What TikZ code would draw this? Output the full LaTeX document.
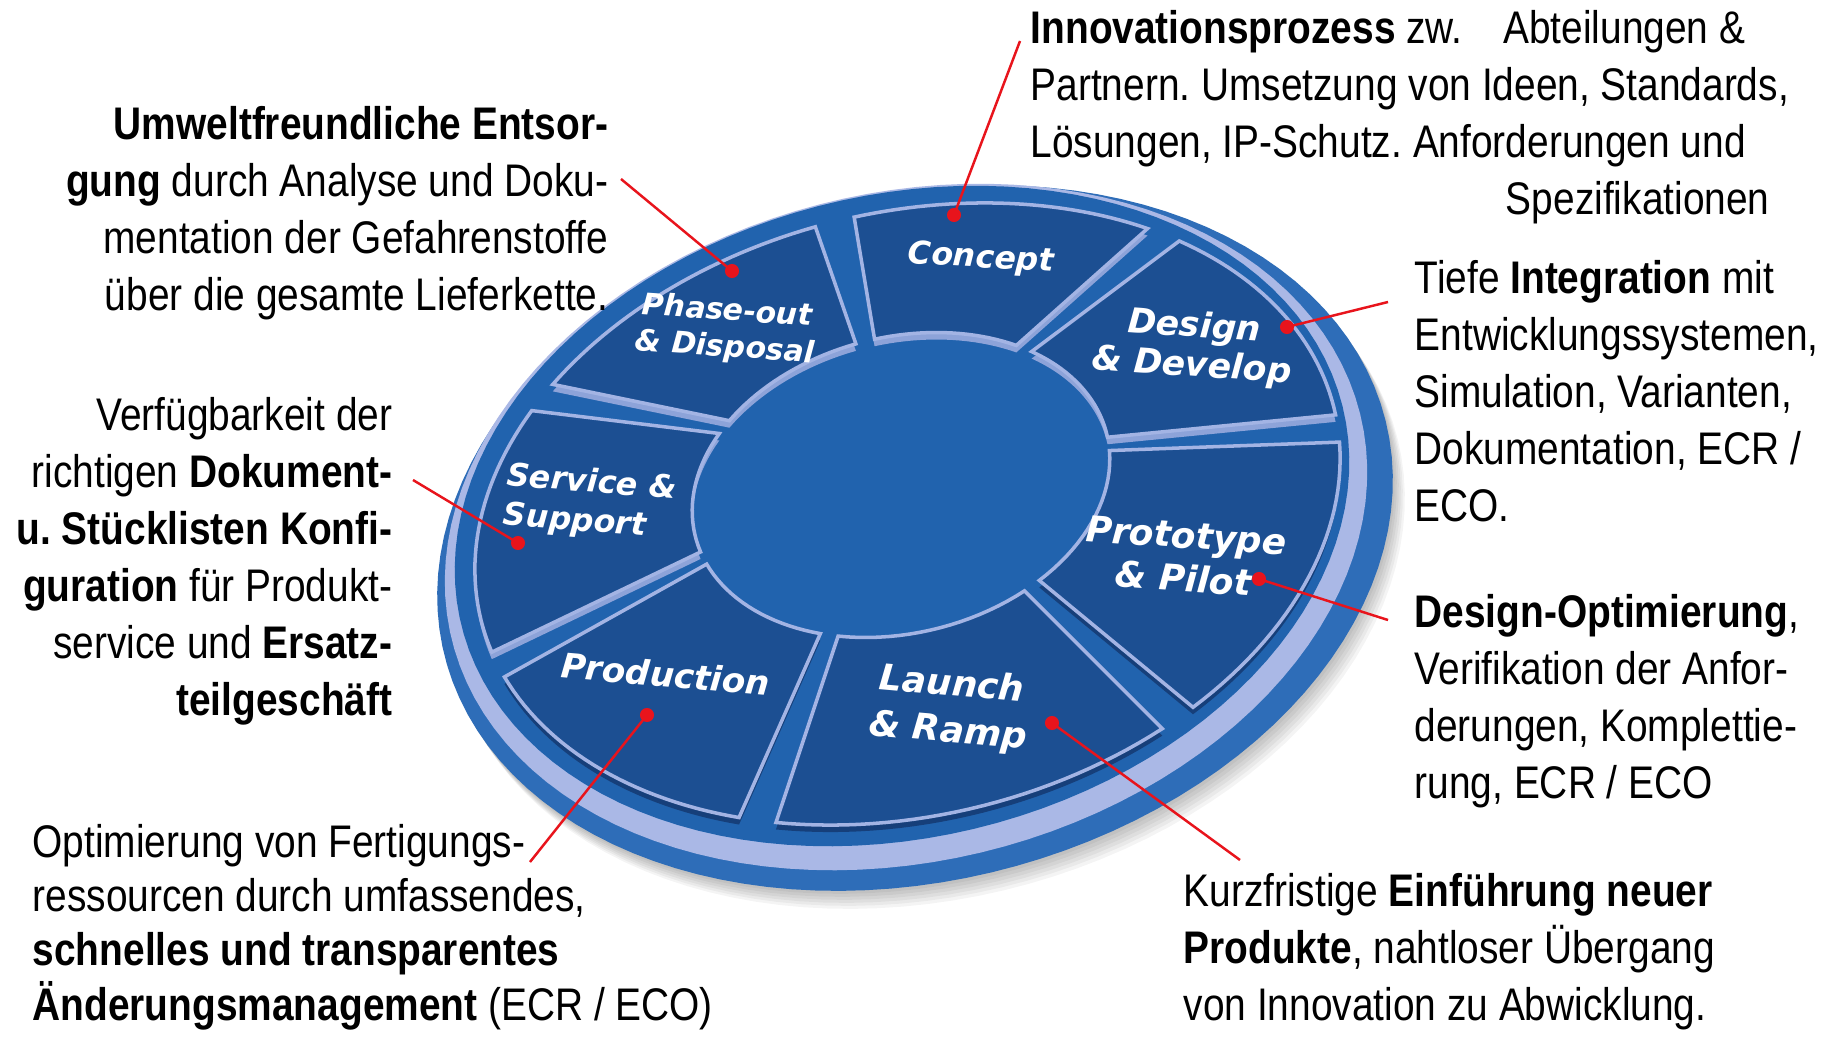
\documentclass[tikz,border=0pt]{standalone}
\usepackage{fontspec}
\setmainfont[FakeStretch=0.85]{Liberation Sans}
\newfontfamily\segfont{DejaVu Sans}
\frenchspacing

\definecolor{rimblue}{HTML}{2E6DB8}
\definecolor{stripe}{HTML}{AAB8E6}
\definecolor{faceblue}{HTML}{2163AE}
\definecolor{segblue}{HTML}{1C4F92}
\definecolor{segline}{HTML}{A3B4E4}
\definecolor{lightside}{HTML}{8DA3D9}
\definecolor{darkside}{HTML}{163F7A}
\definecolor{pointred}{HTML}{E8141C}

\tikzset{
	blocktext/.style={font=\fontsize{13}{16.2}\selectfont, inner sep=0pt},
	seglabel/.style={text=white, inner sep=0pt, align=center},
	pointer/.style={draw=pointred, line width=0.7pt},
	dot/.style={circle, fill=pointred, inner sep=0pt, minimum size=4pt},
}

% one wedge of the wheel between two parameter angles
\newcommand{\wedgepath}[2]{plot[domain=0:1, samples=30] ({ellx(907.5,439.5,301.3,(#1)+((#2)-(#1))*\x)},{elly(514,439.5,301.3,(#1)+((#2)-(#1))*\x)}) -- plot[domain=0:1, samples=20] ({ellx(901,212,148,(#2)+((#1)-(#2))*\x)},{elly(485,212,148,(#2)+((#1)-(#2))*\x)}) -- cycle}

\begin{document}
\begin{tikzpicture}[x=0.01cm, y=-0.01cm,
	declare function={
		ellx(\cen,\ra,\rb,\ang)=\cen+\ra*cos(\ang)*cos(14)-\rb*sin(\ang)*sin(14);
		elly(\cen,\ra,\rb,\ang)=\cen-\ra*cos(\ang)*sin(14)-\rb*sin(\ang)*cos(14);
	}]

	% page
	\fill[white] (0,0) rectangle (1836,1036);
	\useasboundingbox (0,0) rectangle (1836,1036);

	% shadow
	\foreach \k in {1,...,6}
		\fill[black, opacity=0.045] plot[domain=0:360, samples=120] ({ellx(915+2*\k,485,343,\x)},{elly(538+3*\k,485,343,\x)}) -- cycle;

	% disk: rim, light stripe, face
	\fill[rimblue] plot[domain=0:360, samples=120] ({ellx(915,485,343,\x)},{elly(538,485,343,\x)}) -- cycle;
	\fill[stripe] plot[domain=0:360, samples=120] ({ellx(906,468,334,\x)},{elly(527,468,334,\x)}) -- cycle;
	\fill[faceblue] plot[domain=0:360, samples=120] ({ellx(902,454,321,\x)},{elly(516,454,321,\x)}) -- cycle;

	% wedge sides
	\foreach \lo/\hi/\col in {44/90/lightside, -4/44/lightside, -61/-4/darkside, -120/-61/darkside, -171/-120/darkside, -222/-171/lightside, 90/138/lightside}
		\fill[\col, shift={(0,7)}] \wedgepath{\lo+2.6}{\hi-2.6};

	% wedge tops
	\foreach \lo/\hi in {44/90, -4/44, -61/-4, -120/-61, -171/-120, -222/-171, 90/138}
		\filldraw[fill=segblue, draw=segline, line width=1pt] \wedgepath{\lo+2.6}{\hi-2.6};

	% wedge labels
	\node[seglabel, font=\segfont\bfseries\itshape\fontsize{9}{10}\selectfont, rotate=-3] (concept) at (981,259) {Concept};
	\node[seglabel, font=\segfont\bfseries\itshape\fontsize{9.8}{11.2}\selectfont, rotate=-4] (design) at (1193,347) {Design\\\& Develop};
	\node[seglabel, font=\segfont\bfseries\itshape\fontsize{10.2}{12.3}\selectfont, rotate=-4] (prototype) at (1185,557) {Prototype\\\& Pilot};
	\node[seglabel, font=\segfont\bfseries\itshape\fontsize{10.2}{13.2}\selectfont, rotate=-5] (launch) at (950,709) {Launch\\\& Ramp};
	\node[seglabel, font=\segfont\bfseries\itshape\fontsize{9.7}{11}\selectfont, rotate=-5] (production) at (666,674) {Production};
	\node[seglabel, align=left, font=\segfont\bfseries\itshape\fontsize{9}{11.2}\selectfont, rotate=-4.5] (service) at (590,503) {Service \&\\Support};
	\node[seglabel, font=\segfont\bfseries\itshape\fontsize{8.5}{10.4}\selectfont, rotate=-4] (phaseout) at (726,330) {Phase-out\\\& Disposal};

	% notes (anchored at the baseline of their last line)
	\node[blocktext, align=left, anchor=base west] (conceptnote) at (1030,214)
		{\textbf{Innovationsprozess} zw.\hspace{0.3cm} Abteilungen \&\\
		Partnern. Umsetzung von Ideen, Standards,\\
		Lösungen, IP-Schutz. Anforderungen und\\
		\hspace*{4.75cm}Spezifikationen};
	\node[blocktext, align=right, anchor=base east] (disposalnote) at (609,310)
		{\textbf{Umweltfreundliche Entsor-}\\
		\textbf{gung} durch Analyse und Doku-\\
		mentation der Gefahrenstoffe\\
		über die gesamte Lieferkette.};
	\node[blocktext, align=left, anchor=base west] (designnote) at (1414,521)
		{Tiefe \textbf{Integration} mit\\
		Entwicklungssystemen,\\
		Simulation, Varianten,\\
		Dokumentation, ECR /\\
		ECO.};
	\node[blocktext, align=left, anchor=base west] (prototypenote) at (1414,798)
		{\textbf{Design-Optimierung},\\
		Verifikation der Anfor-\\
		derungen, Komplettie-\\
		rung, ECR / ECO};
	\node[blocktext, align=right, anchor=base east] (servicenote) at (393,715)
		{Verfügbarkeit der\\
		richtigen \textbf{Dokument-}\\
		\textbf{u. Stücklisten Konfi-}\\
		\textbf{guration} für Produkt-\\
		service und \textbf{Ersatz-}\\
		\textbf{teilgeschäft}};
	\node[blocktext, align=left, anchor=base west] (launchnote) at (1183,1020)
		{Kurzfristige \textbf{Einführung neuer}\\
		\textbf{Produkte}, nahtloser Übergang\\
		von Innovation zu Abwicklung.};
	\node[blocktext, font=\fontsize{13}{15.4}\selectfont, align=left, anchor=base west] (productionnote) at (32,1020)
		{Optimierung von Fertigungs-\\
		ressourcen durch umfassendes,\\
		\textbf{schnelles und transparentes}\\
		\textbf{Änderungsmanagement} (ECR / ECO)};

	% pointer ends
	\coordinate (conceptend) at (1020,41);
	\coordinate (phaseoutend) at (621,179);
	\coordinate (designend) at (1388,302);
	\coordinate (prototypeend) at (1388,620);
	\coordinate (launchend) at (1240,860);
	\coordinate (productionend) at (530,862);
	\coordinate (serviceend) at (413,480);

	% pointer dots
	\node[dot] (conceptdot) at (954,215) {};
	\node[dot] (phaseoutdot) at (732,271) {};
	\node[dot] (designdot) at (1287,327) {};
	\node[dot] (prototypedot) at (1259,579) {};
	\node[dot] (launchdot) at (1052,723) {};
	\node[dot] (productiondot) at (647,715) {};
	\node[dot] (servicedot) at (518,543) {};

	% pointers
	\draw[pointer] (conceptend) -- (conceptdot.center);
	\draw[pointer] (phaseoutend) -- (phaseoutdot.center);
	\draw[pointer] (designend) -- (designdot.center);
	\draw[pointer] (prototypeend) -- (prototypedot.center);
	\draw[pointer] (launchend) -- (launchdot.center);
	\draw[pointer] (productionend) -- (productiondot.center);
	\draw[pointer] (serviceend) -- (servicedot.center);

\end{tikzpicture}
\end{document}
